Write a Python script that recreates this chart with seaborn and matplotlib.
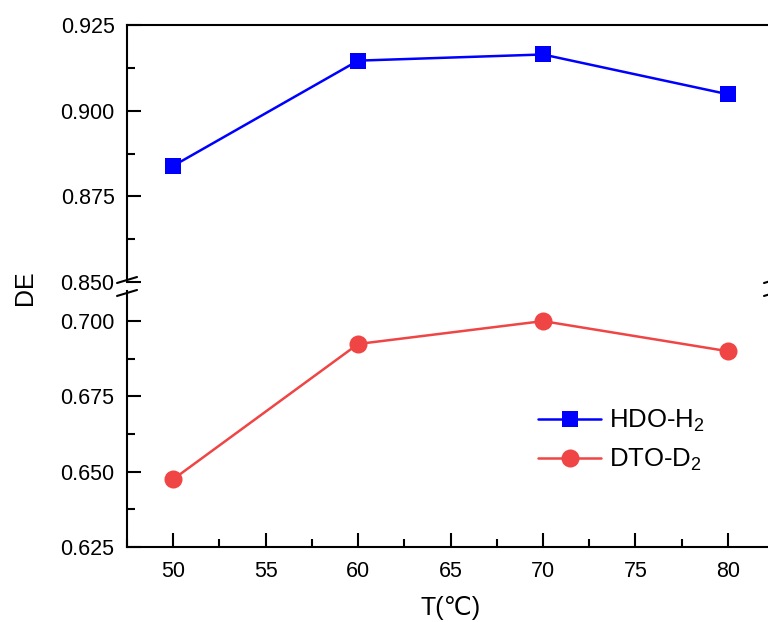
import numpy as np
import pandas as pd
import matplotlib
matplotlib.use("Agg")
import matplotlib.pyplot as plt
import seaborn as sns
from matplotlib.ticker import MultipleLocator, FormatStrFormatter

# Data
temps = [50, 60, 70, 80]
hdo_h2 = [0.8839, 0.9146, 0.9164, 0.9048]
dto_d2 = [0.6475, 0.6924, 0.7000, 0.6900]
series_names = ["HDO-H$_2$", "DTO-D$_2$"]

sns.set_style("ticks")
plt.rcParams["font.family"] = ["Liberation Sans", "DejaVu Sans"]
plt.rcParams["mathtext.fontset"] = "custom"
plt.rcParams["mathtext.rm"] = "Liberation Sans"
plt.rcParams["mathtext.it"] = "Liberation Sans"
plt.rcParams["mathtext.default"] = "regular"
for key in ("text.color", "axes.labelcolor", "xtick.color", "ytick.color",
            "axes.edgecolor"):
    plt.rcParams[key] = "black"

blue = "#0000FF"
red = "#F04545"

fig = plt.figure(figsize=(7.68, 6.22), dpi=100)
# broken y axis: two stacked axes, right edge runs past the figure like the original
ax_top = fig.add_axes([0.1654, 0.5466, 0.8424, 0.4132])
ax_bot = fig.add_axes([0.1654, 0.1206, 0.8424, 0.4116])

df = pd.DataFrame({"T": temps, "HDO": hdo_h2, "DTO": dto_d2})

sns.lineplot(data=df, x="T", y="HDO", ax=ax_top, color=blue, marker="s",
             markersize=11.5, markeredgewidth=0, linewidth=1.8,
             label=series_names[0], legend=False)
sns.lineplot(data=df, x="T", y="DTO", ax=ax_bot, color=red, marker="o",
             markersize=13, markeredgewidth=0, linewidth=1.8,
             label=series_names[1], legend=False)

for ax in (ax_top, ax_bot):
    ax.set_xlim(47.5, 82.5)
    ax.xaxis.set_major_locator(MultipleLocator(5))
    ax.xaxis.set_minor_locator(MultipleLocator(2.5))
    ax.yaxis.set_major_locator(MultipleLocator(0.025))
    ax.yaxis.set_minor_locator(MultipleLocator(0.0125))
    ax.tick_params(which="both", direction="in", width=1.5, labelsize=15.5,
                   top=False, right=False)
    ax.tick_params(which="major", length=10)
    ax.tick_params(which="minor", length=6)
    ax.tick_params(axis="y", which="major", pad=9)
    ax.tick_params(axis="x", which="major", pad=10)
    for sp in ax.spines.values():
        sp.set_linewidth(1.5)
    ax.set_xlabel("")
    ax.set_ylabel("")
    ax.yaxis.set_major_formatter(FormatStrFormatter("%.3f"))

ax_top.set_ylim(0.85, 0.925)
ax_bot.set_ylim(0.625, 0.710)
ax_top.spines["bottom"].set_visible(False)
ax_bot.spines["top"].set_visible(False)
ax_top.tick_params(axis="x", which="both", bottom=False, labelbottom=False)
ax_bot.set_yticks([0.625, 0.650, 0.675, 0.700])

ax_bot.set_xlabel("T(\u2103)", fontsize=18, labelpad=10)
fig.text(0.033, 0.537, "DE", rotation=90, fontsize=18, ha="center", va="center")

# break marks on both spines
dx, dy = 10, 3
for xf in (0.0, 1.0):
    for ax, yf in ((ax_top, 0.0), (ax_bot, 1.0)):
        px, py = ax.transAxes.transform((xf, yf))
        yshift = 2 if ax is ax_top else -2
        pts = np.array([[px - dx, py - dy + yshift], [px + dx, py + dy + yshift]])
        fx, fy = fig.transFigure.inverted().transform(pts).T
        fig.add_artist(plt.Line2D(fx, fy, color="black", lw=1.5))

handles = ax_top.get_lines()[:1] + ax_bot.get_lines()[:1]
ax_bot.legend(handles, series_names, loc="upper left",
              bbox_to_anchor=(0.6, 0.635), frameon=False, fontsize=18.5,
              handlelength=2.45, handletextpad=0.3, labelspacing=0.5)

fig.savefig("out.png", dpi=100)
